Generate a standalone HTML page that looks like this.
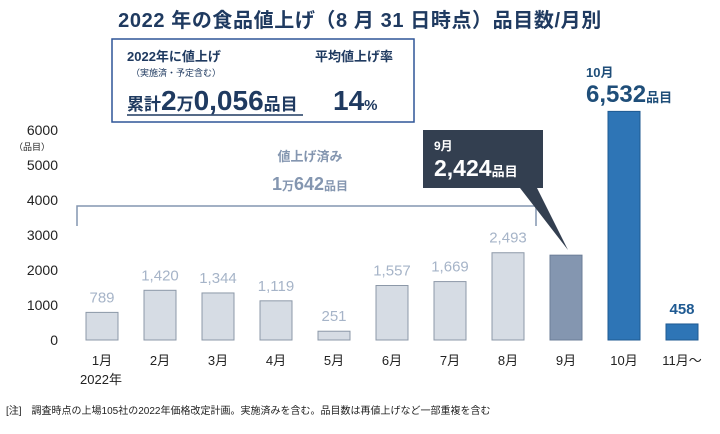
<!DOCTYPE html>
<html><head><meta charset="utf-8"><style>
body{margin:0;background:#fff;width:720px;height:429px;overflow:hidden;font-family:"Liberation Sans","Noto Sans CJK JP",sans-serif}
svg text{font-family:"Liberation Sans","Noto Sans CJK JP",sans-serif}
</style></head><body>
<svg width="720" height="429">
<text x="360" y="27" text-anchor="middle" font-size="20" font-weight="bold" letter-spacing="0.6" fill="#1f3a60">2022 年の食品値上げ（8 月 31 日時点）品目数/月別</text>
<g>
<rect x="112" y="39" width="302" height="83" fill="#fff" stroke="#2f5597" stroke-width="1.5"/>
<text x="127" y="61" font-size="13" font-weight="bold" fill="#1f3a60">2022年に値上げ</text>
<text x="131" y="76" font-size="9" fill="#1f3a60">（実施済・予定含む）</text>
<text x="127" y="110" fill="#1f3a60" font-weight="bold"><tspan font-size="17">累計</tspan><tspan font-size="28">2</tspan><tspan font-size="17">万</tspan><tspan font-size="28">0,056</tspan><tspan font-size="17">品目</tspan></text>
<line x1="127" y1="115" x2="303" y2="115" stroke="#1f3a60" stroke-width="1.5"/>
<text x="315" y="61" font-size="13" font-weight="bold" fill="#1f3a60">平均値上げ率</text>
<text x="333" y="110" fill="#1f3a60" font-weight="bold"><tspan font-size="28">14</tspan><tspan font-size="15">%</tspan></text>
</g>
<g id="yaxis"></g>
<text x="14" y="150" font-size="9" fill="#222">（品目）</text>
<g>
<path d="M77,226 V206 H536 V226" fill="none" stroke="#8496b0" stroke-width="1.5"/>
<text x="310" y="161" text-anchor="middle" font-size="13" font-weight="bold" fill="#8496b0">値上げ済み</text>
<text x="310" y="190" text-anchor="middle" fill="#8496b0" font-weight="bold"><tspan font-size="18">1</tspan><tspan font-size="12">万</tspan><tspan font-size="18">642</tspan><tspan font-size="12">品目</tspan></text>
</g>
<g id="bars"></g>
<g>
<polygon points="423,130 543,130 543,188 537,188 568,250 520,188 423,188" fill="#333f50"/>
<text x="434" y="150" font-size="12" font-weight="bold" fill="#fff">9月</text>
<text x="434" y="176" fill="#fff" font-weight="bold"><tspan font-size="23">2,424</tspan><tspan font-size="13">品目</tspan></text>
</g>
<g>
<text x="586" y="77" font-size="13" font-weight="bold" fill="#1f4e79">10月</text>
<text x="586" y="102" fill="#1f4e79" font-weight="bold"><tspan font-size="24">6,532</tspan><tspan font-size="13">品目</tspan></text>
</g>
<text x="101" y="384" text-anchor="middle" font-size="13" fill="#222">2022年</text>
<text x="6" y="414" font-size="10" fill="#222">[注]　調査時点の上場105社の2022年価格改定計画。実施済みを含む。品目数は再値上げなど一部重複を含む</text>
</svg>
<script>
const categories=["1月","2月","3月","4月","5月","6月","7月","8月","9月","10月","11月～"];
const values=[789,1420,1344,1119,251,1557,1669,2493,2424,6532,458];
const valueLabels=["789","1,420","1,344","1,119","251","1,557","1,669","2,493","","","458"];
const yTicks=[0,1000,2000,3000,4000,5000,6000];
const NS="http://www.w3.org/2000/svg";
const y=v=>340-v*0.035;
const x=i=>102+i*58;
function mk(t,a,p){const e=document.createElementNS(NS,t);for(const k in a)e.setAttribute(k,a[k]);p.appendChild(e);return e;}
const ya=document.getElementById('yaxis');
yTicks.forEach(t=>{const e=mk('text',{x:58,y:y(t)+5,'text-anchor':'end','font-size':14,fill:'#222'},ya);e.textContent=t;

});
const g=document.getElementById('bars');
values.forEach((v,i)=>{
 let fill='#d6dce4',stroke='#8c98a8';
 if(i==8){fill='#8496b0';stroke='#6b7d97';}
 if(i>=9){fill='#2e75b6';stroke='#1f5a92';}
 const r=mk('rect',{x:x(i)-16,y:y(v),width:32,height:340-y(v),fill:fill,stroke:stroke,'stroke-width':1},g);
 
 
 if(valueLabels[i]){const col=i==10?'#1f5a92':'#a6b4c8';
  const t=mk('text',{x:x(i),y:y(v)-10,'text-anchor':'middle','font-size':15,'font-weight':i==10?'bold':'normal',fill:col},g);t.textContent=valueLabels[i];
  
  }
 const c=mk('text',{x:x(i),y:365,'text-anchor':'middle','font-size':13,fill:'#222'},g);c.textContent=categories[i];
 
 
});
</script>
</body></html>
